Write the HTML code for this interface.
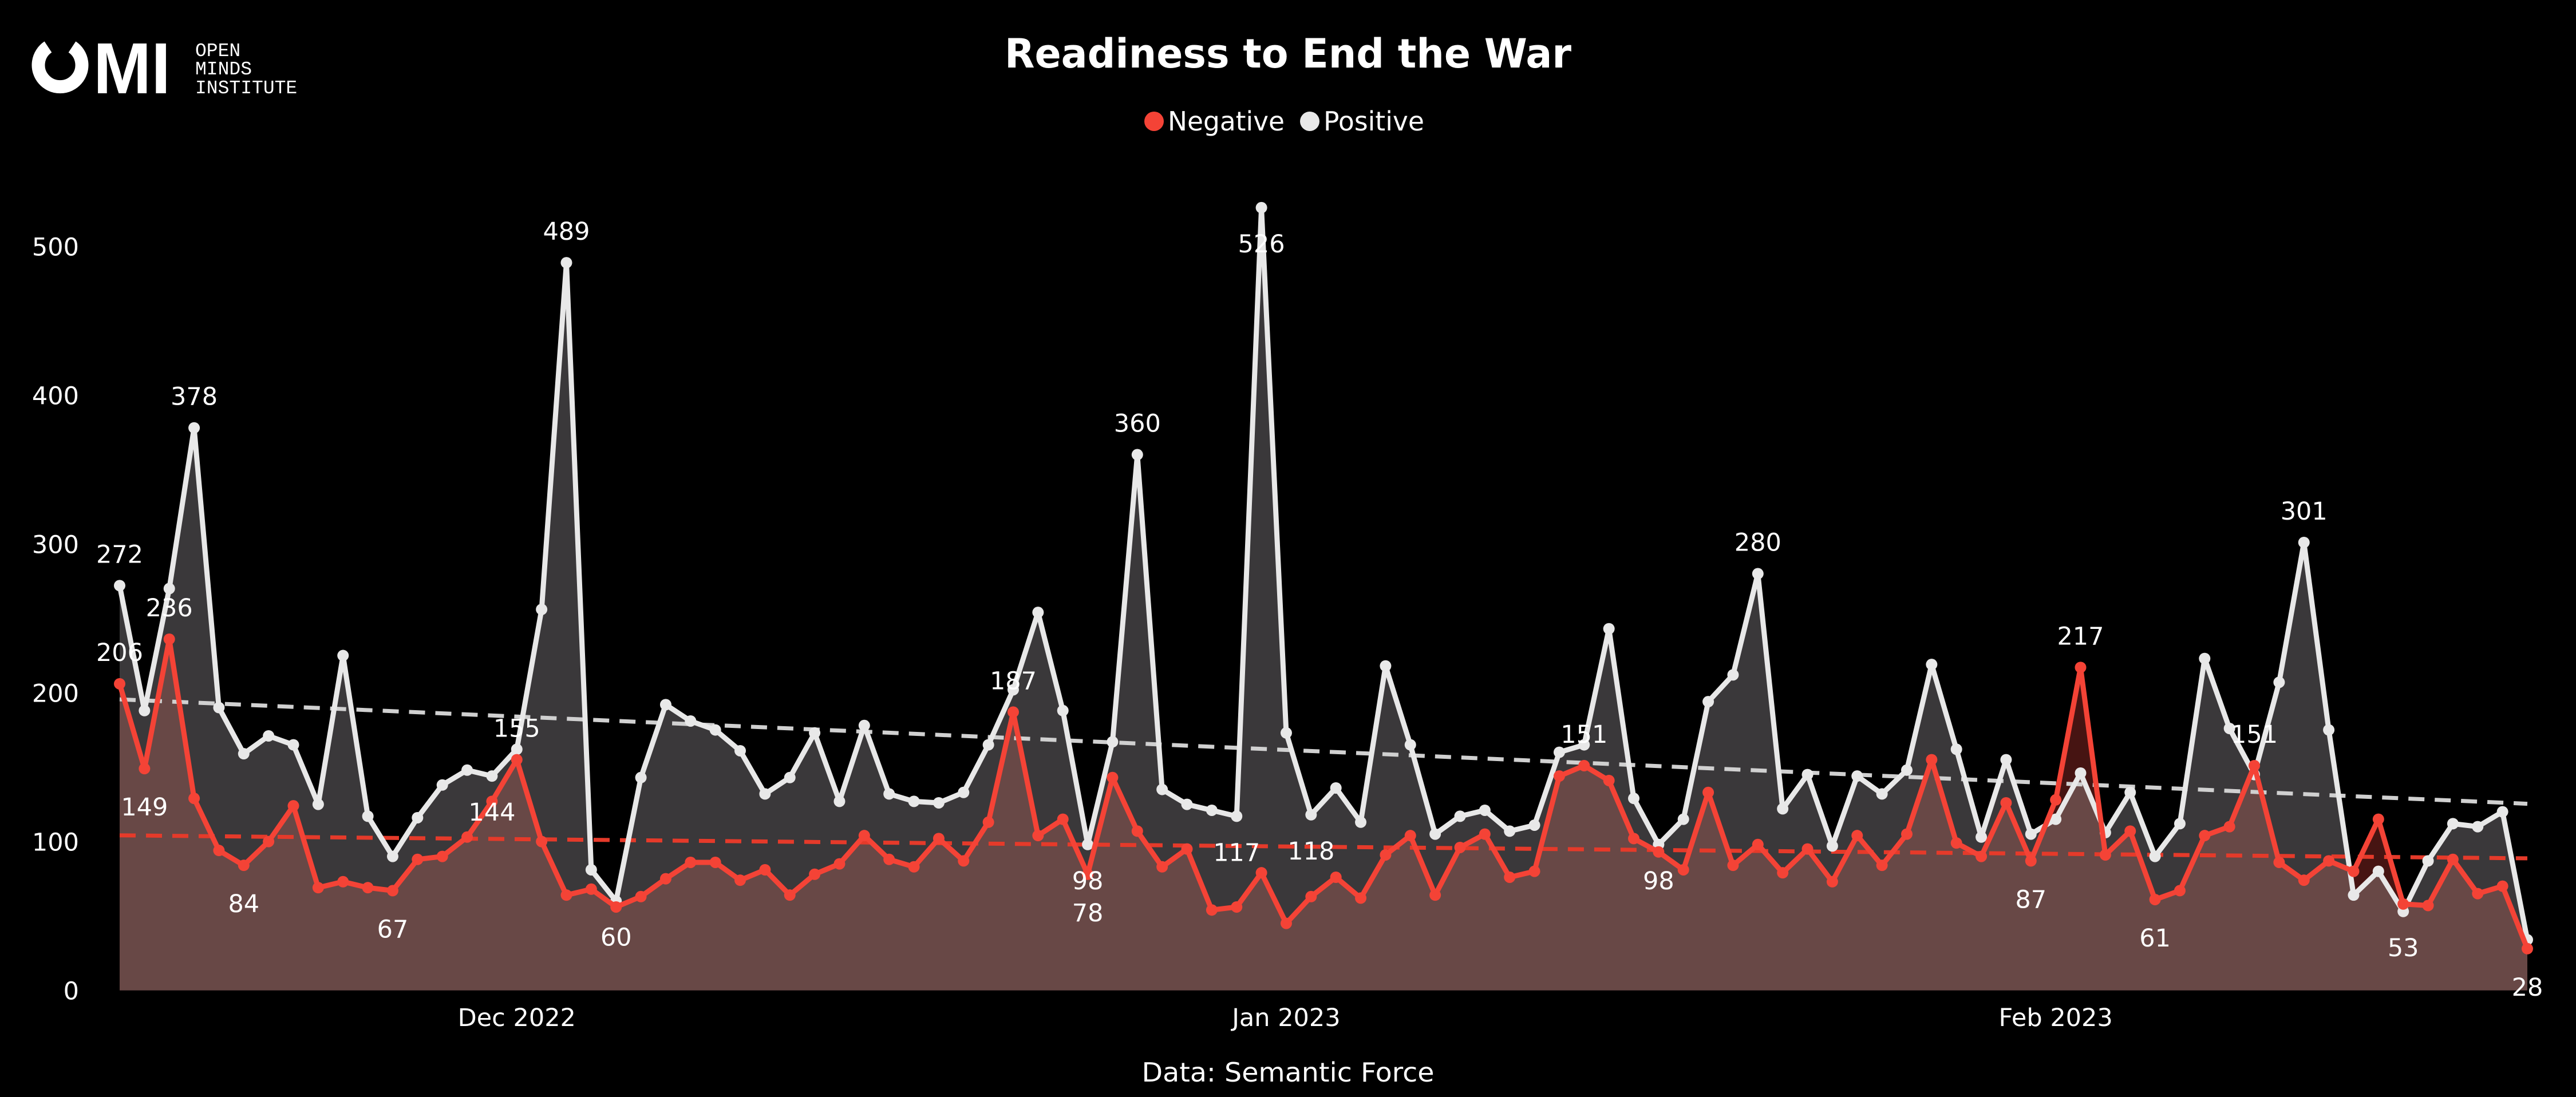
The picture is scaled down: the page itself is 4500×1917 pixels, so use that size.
<!DOCTYPE html>
<html><head><meta charset="utf-8"><style>
html,body{margin:0;padding:0;background:#000;}
svg{display:block;}
text{font-family:"DejaVu Sans","Liberation Sans",sans-serif;fill:#fff;}
</style></head><body>
<svg id="chart" width="4500" height="1917" viewBox="0 0 4500 1917" xmlns="http://www.w3.org/2000/svg">
<rect width="4500" height="1917" fill="#000"/>
<g>
<path d="M84 82 A38 38 0 1 0 126 82" fill="none" stroke="#fff" stroke-width="23"/>
<text x="163" y="163" font-size="126" font-weight="bold" textLength="135" lengthAdjust="spacingAndGlyphs" style="font-family:'Liberation Sans',sans-serif">MI</text>
<text x="341" y="98" font-size="33" style="font-family:'Liberation Mono',monospace">OPEN</text>
<text x="341" y="130" font-size="33" style="font-family:'Liberation Mono',monospace">MINDS</text>
<text x="341" y="163" font-size="33" style="font-family:'Liberation Mono',monospace">INSTITUTE</text>
</g>
<text x="2250" y="118" font-size="70" font-weight="bold" text-anchor="middle" textLength="990" lengthAdjust="spacingAndGlyphs">Readiness to End the War</text>
<g>
<circle cx="2016" cy="212" r="17" fill="#f44336"/>
<text x="2040" y="228" font-size="46" textLength="204" lengthAdjust="spacingAndGlyphs">Negative</text>
<circle cx="2288" cy="212" r="17" fill="#e8e8e8"/>
<text x="2312" y="228" font-size="46" textLength="176" lengthAdjust="spacingAndGlyphs">Positive</text>
</g>
<text x="2250" y="1890" font-size="46" text-anchor="middle" textLength="511" lengthAdjust="spacingAndGlyphs">Data: Semantic Force</text>
<g id="plot"></g>
</svg>
<script>
const positive=[272,188,270,378,190,159,171,165,125,225,117,90,116,138,148,144,162,256,489,81,60,143,192,181,175,161,132,143,173,127,178,132,127,126,133,165,202,254,188,98,167,360,135,125,121,117,526,173,118,136,113,218,165,105,117,121,107,111,160,165,243,129,98,115,194,212,280,122,145,97,144,132,148,219,162,103,155,105,115,146,106,133,90,112,223,176,145,207,301,175,64,80,53,87,112,110,120,34];
const negative=[206,149,236,129,94,84,100,124,69,73,69,67,88,90,103,127,155,100,64,68,56,63,75,86,86,74,81,64,78,85,104,88,83,102,87,113,187,104,115,78,143,107,83,95,54,56,79,45,63,76,62,91,104,64,96,105,76,80,144,151,141,102,93,81,133,84,98,79,95,73,104,84,105,155,99,90,126,87,128,217,91,107,61,67,104,110,151,86,74,87,80,115,58,57,88,65,70,28];
const monthTicks=["Dec 2022","Jan 2023","Feb 2023"];
const monthTickIdx=[16,47,78];
const yTicks=[0,100,200,300,400,500];
const posLabelsAbove=[0,3,18,41,66,88];
const posLabelsBelow=[15,20,39,45,46,48,62,92];
const negLabelsAbove=[0,2,16,36,59,79,86];
const negLabelsBelow=[1,5,11,39,77,82,97];

const NS="http://www.w3.org/2000/svg";
const X0=209,X1=4415,Y0=1730.6,Y500=430.5;
const n=positive.length;
const xs=i=>X0+(X1-X0)*i/(n-1);
const ys=v=>Y0-(Y0-Y500)*v/500;
const plot=document.getElementById('plot');
function mk(tag,attrs,parent){const e=document.createElementNS(NS,tag);for(const k in attrs)e.setAttribute(k,attrs[k]);(parent||plot).appendChild(e);return e;}

function areaPath(pts){let d='M'+pts[0][0]+' '+Y0;pts.forEach(p=>d+=' L'+p[0]+' '+p[1]);d+=' L'+pts[pts.length-1][0]+' '+Y0+' Z';return d;}
const pPts=positive.map((v,i)=>[xs(i),ys(v)]);
const nPts=negative.map((v,i)=>[xs(i),ys(v)]);
const minPts=[];
for(let i=0;i<n;i++){
  minPts.push([xs(i),ys(Math.min(positive[i],negative[i]))]);
  if(i<n-1){const d0=positive[i]-negative[i],d1=positive[i+1]-negative[i+1];
    if(d0*d1<0){const t=d0/(d0-d1);const v=positive[i]+(positive[i+1]-positive[i])*t;minPts.push([xs(i+t),ys(v)]);}}
}
let e;
e=mk('path',{d:areaPath(nPts),fill:'#461412'});


e=mk('path',{d:areaPath(pPts),fill:'#3a383a'});


e=mk('path',{d:areaPath(minPts),fill:'#684846'});



function trend(arr,color,name){
  let sx=0,sy=0,sxx=0,sxy=0;arr.forEach((v,i)=>{sx+=i;sy+=v;sxx+=i*i;sxy+=i*v;});
  const b=(n*sxy-sx*sy)/(n*sxx-sx*sx),a=(sy-b*sx)/n;
  const l=mk('line',{x1:xs(0),y1:ys(a),x2:xs(n-1),y2:ys(a+b*(n-1)),stroke:color,'stroke-width':7,'stroke-dasharray':'28 18'});
  
  
}
trend(positive,'#d0d0d0','positive-trend-line');
trend(negative,'#e53a2a','negative-trend-line');

function series(pts,color,name,mname){
  const l=mk('polyline',{points:pts.map(p=>p.join(',')).join(' '),fill:'none',stroke:color,'stroke-width':9,'stroke-linejoin':'round'});
  
  
  pts.forEach(p=>{const c=mk('circle',{cx:p[0],cy:p[1],r:10,fill:color});
    
    });
}
series(pPts,'#e8e8e8','positive-line','positive-point');
series(nPts,'#f44336','negative-line','negative-point');

function labels(idx,arr,dy,name){
  idx.forEach(i=>{const t=mk('text',{x:xs(i),y:ys(arr[i])+dy,'font-size':43,'text-anchor':'middle'});t.textContent=arr[i];
    
    });
}
labels(posLabelsAbove,positive,-40,'positive-data-label');
labels(posLabelsBelow,positive,78,'positive-data-label');
labels(negLabelsAbove,negative,-40,'negative-data-label');
labels(negLabelsBelow,negative,82,'negative-data-label');

yTicks.forEach(v=>{const t=mk('text',{x:138,y:ys(v)+16,'font-size':43,'text-anchor':'end'});t.textContent=v;
  
  });
monthTicks.forEach((m,k)=>{const t=mk('text',{x:xs(monthTickIdx[k]),y:1793,'font-size':43,'text-anchor':'middle'});t.textContent=m;
  
  });
</script>
</body></html>
